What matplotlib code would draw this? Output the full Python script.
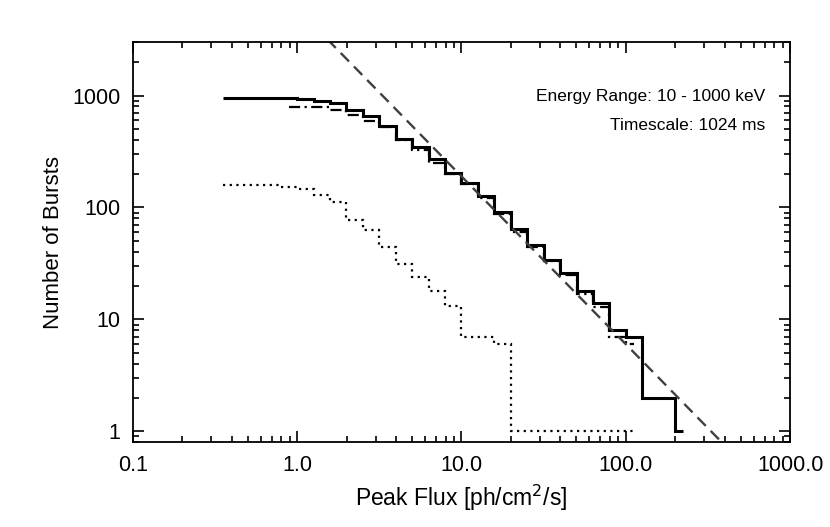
import numpy as np
import matplotlib
matplotlib.use('Agg')
from matplotlib import pyplot as plt
from matplotlib.ticker import LogLocator, FixedLocator, NullFormatter

plt.rcParams['font.family'] = ['Liberation Sans', 'DejaVu Sans']

# bin centres (log10 of peak flux), 0.1 dex wide
all_logc = np.round(np.arange(-0.45, 2.36, 0.1), 2)

# cumulative counts, all bursts (solid)
n_all = [960, 960, 960, 958, 955, 935, 903, 854, 750, 650, 533, 410, 347, 273,
         205, 166, 126, 91, 64, 46, 34, 26, 18, 14, 8, 7, 2, 2, 1]
# second sample (dash-dot), starts at log = -0.05
dd_logc = np.round(np.arange(-0.05, 2.06, 0.1), 2)
n_dd = [787, 787, 787, 746, 673, 590, 522, 400, 323, 250, 200, 162, 122, 88,
        60, 44, 33, 25, 17, 13, 7, 6]
# short bursts (dotted)
dot_logc = np.round(np.arange(-0.45, 2.06, 0.1), 2)
n_dot = [160, 160, 160, 160, 153, 145, 129, 112, 77, 63, 44.5, 31, 24, 18,
         13.2, 7, 7, 6, 1, 1, 1, 1, 1, 1, 1, 1]

# power law reference N = A * S^-1.5
pl_norm = 6000.0
pl_index = -1.5

xticks = [0.1, 1.0, 10.0, 100.0, 1000.0]
xtick_labels = ['0.1', '1.0', '10.0', '100.0', '1000.0']
yticks = [1, 10, 100, 1000]
ytick_labels = ['1', '10', '100', '1000']


def edges_from_centres(logc):
    # psym=10 style: steps halfway between points, ends at first/last point
    logc = np.asarray(logc)
    mids = (logc[:-1] + logc[1:]) / 2
    return 10 ** np.concatenate([[logc[0]], mids, [logc[-1]]])


fig = plt.figure(figsize=(8.3, 5.27), dpi=100)
ax = fig.add_axes([0.160, 0.161, 0.792, 0.759])

ax.stairs(n_all, edges_from_centres(all_logc), color='black', lw=2.2, baseline=None)
ax.stairs(n_dd, edges_from_centres(dd_logc), color='black', lw=1.6,
          linestyle=(0, (5, 2, 1, 2)), baseline=None)
ax.stairs(n_dot, edges_from_centres(dot_logc), color='black', lw=1.6,
          linestyle=(0, (1, 2)), baseline=None)

s = np.array([0.1, 1000.0])
ax.plot(s, pl_norm * s ** pl_index, color='#404040', lw=1.7,
        linestyle=(0, (5, 3)))

ax.set_xscale('log')
ax.set_yscale('log')
ax.set_xlim(0.1, 1000.0)
ax.set_ylim(0.8, 3000)

ax.xaxis.set_major_locator(FixedLocator(xticks))
ax.set_xticklabels(xtick_labels)
ax.yaxis.set_major_locator(FixedLocator(yticks))
ax.set_yticklabels(ytick_labels)
ax.xaxis.set_minor_locator(LogLocator(base=10, subs=np.arange(2, 10)))
ax.yaxis.set_minor_locator(LogLocator(base=10, subs=np.arange(2, 10)))
ax.xaxis.set_minor_formatter(NullFormatter())
ax.yaxis.set_minor_formatter(NullFormatter())
ax.tick_params(which='both', direction='in', top=True, right=True, width=1.2)
ax.tick_params(which='major', length=8, labelsize=15.5, pad=9)
ax.tick_params(which='minor', length=4)
for sp in ax.spines.values():
    sp.set_linewidth(1.3)

ax.set_xlabel('Peak Flux [ph/cm$^2$/s]', fontsize=16.5, labelpad=5)
ax.set_ylabel('Number of Bursts', fontsize=16, labelpad=6)

ax.text(0.962, 0.865, 'Energy Range: 10 - 1000 keV', transform=ax.transAxes,
        ha='right', va='center', fontsize=12.5)
ax.text(0.962, 0.7925, 'Timescale: 1024 ms', transform=ax.transAxes,
        ha='right', va='center', fontsize=12.5)

fig.savefig('out.png', dpi=100)
